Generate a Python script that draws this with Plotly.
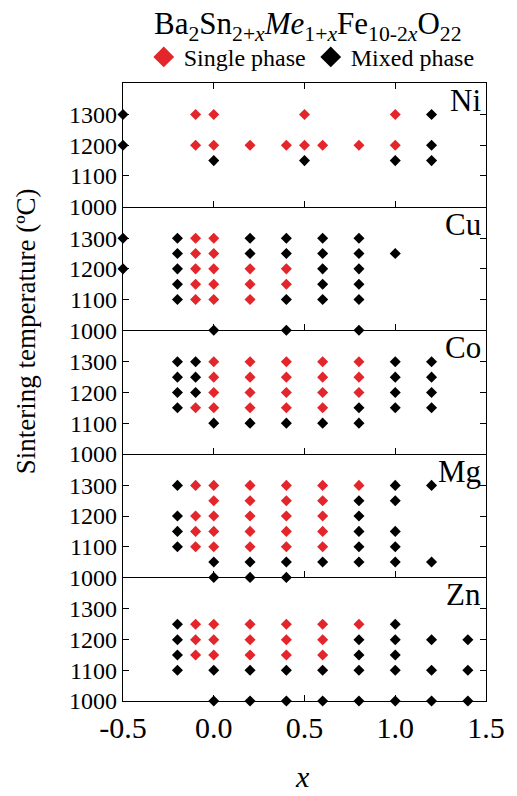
import plotly.graph_objects as go
from plotly.subplots import make_subplots

# ---- data ----
panel_names = ["Ni", "Cu", "Co", "Mg", "Zn"]

ni_single_x = [-0.1, -0.1, 0.0, 0.0, 0.2, 0.4, 0.5, 0.5, 0.6, 0.8, 1.0, 1.0]
ni_single_t = [1300, 1200, 1300, 1200, 1200, 1200, 1300, 1200, 1200, 1200, 1300, 1200]
ni_mixed_x = [-0.5, -0.5, 0.0, 0.5, 1.0, 1.2, 1.2, 1.2]
ni_mixed_t = [1300, 1200, 1150, 1150, 1150, 1300, 1200, 1150]

cu_single_x = [-0.1]*5 + [0.0]*5 + [0.2]*3 + [0.4]*2
cu_single_t = [1300, 1250, 1200, 1150, 1100, 1300, 1250, 1200, 1150, 1100,
               1200, 1150, 1100, 1200, 1150]
cu_mixed_x = [-0.5]*2 + [-0.2]*5 + [0.0] + [0.2]*2 + [0.4]*4 + [0.6]*5 + [0.8]*6 + [1.0]
cu_mixed_t = [1300, 1200, 1300, 1250, 1200, 1150, 1100, 1000, 1300, 1250,
              1300, 1250, 1100, 1000, 1300, 1250, 1200, 1150, 1100,
              1300, 1250, 1200, 1150, 1100, 1000, 1250]

co_single_x = [-0.1] + [0.0]*4 + [0.2]*4 + [0.4]*4 + [0.6]*4 + [0.8]*3
co_single_t = [1150] + [1300, 1250, 1200, 1150]*4 + [1300, 1250, 1200]
co_mixed_x = [-0.2]*4 + [-0.1]*3 + [0.0, 0.2, 0.4, 0.6, 0.8, 0.8] + [1.0]*4 + [1.2]*4
co_mixed_t = [1300, 1250, 1200, 1150, 1300, 1250, 1200,
              1100, 1100, 1100, 1100, 1100, 1150] + [1300, 1250, 1200, 1150]*2

mg_single_x = [-0.1]*4 + [0.0]*5 + [0.2]*5 + [0.4]*5 + [0.6]*5 + [0.8]
mg_single_t = [1300, 1200, 1150, 1100] + [1300, 1250, 1200, 1150, 1100]*4 + [1300]
mg_mixed_x = ([-0.2]*4 + [0.0]*2 + [0.2]*2 + [0.4]*2 + [0.6] + [0.8]*5
              + [1.0]*5 + [1.2]*2)
mg_mixed_t = ([1300, 1200, 1150, 1100] + [1050, 1000]*3 + [1050]
              + [1250, 1200, 1150, 1100, 1050] + [1300, 1250, 1150, 1100, 1050]
              + [1300, 1050])

zn_single_x = [-0.1]*3 + [0.0]*3 + [0.2]*3 + [0.4]*3 + [0.6]*3 + [0.8]
zn_single_t = [1250, 1200, 1150]*5 + [1250]
zn_mixed_x = ([-0.2]*4 + [0.0]*2 + [0.2]*2 + [0.4]*2 + [0.6]*2 + [0.8]*4
              + [1.0]*5 + [1.2]*3 + [1.4]*3)
zn_mixed_t = ([1250, 1200, 1150, 1100] + [1100, 1000]*4 + [1200, 1150, 1100, 1000]
              + [1250, 1200, 1150, 1100, 1000] + [1200, 1100, 1000]*2)

x_ticks = [-0.5, 0.0, 0.5, 1.0, 1.5]
x_tick_text = ["-0.5", "0.0", "0.5", "1.0", "1.5"]
y_ticks = [1000, 1100, 1200, 1300]

single_sets = [(ni_single_x, ni_single_t), (cu_single_x, cu_single_t),
               (co_single_x, co_single_t), (mg_single_x, mg_single_t),
               (zn_single_x, zn_single_t)]
mixed_sets = [(ni_mixed_x, ni_mixed_t), (cu_mixed_x, cu_mixed_t),
              (co_mixed_x, co_mixed_t), (mg_mixed_x, mg_mixed_t),
              (zn_mixed_x, zn_mixed_t)]

RED = "#e3262b"
BLACK = "#000000"
FONT = "Liberation Serif, Times New Roman, serif"

fig = make_subplots(rows=5, cols=1, shared_xaxes=True, vertical_spacing=0)

for i in range(5):
    r = i + 1
    mx, mt = mixed_sets[i]
    sx, st = single_sets[i]
    fig.add_trace(go.Scatter(x=mx, y=mt, mode="markers", showlegend=False,
                             marker=dict(symbol="diamond", size=8.5, color=BLACK),
                             cliponaxis=False), row=r, col=1)
    fig.add_trace(go.Scatter(x=sx, y=st, mode="markers", showlegend=False,
                             marker=dict(symbol="diamond", size=8.5, color=RED),
                             cliponaxis=False), row=r, col=1)

# legend-only traces
fig.add_trace(go.Scatter(x=[None], y=[None], mode="markers", name="Single phase",
                         marker=dict(symbol="diamond", size=16, color=RED)), row=1, col=1)
fig.add_trace(go.Scatter(x=[None], y=[None], mode="markers", name="Mixed phase",
                         marker=dict(symbol="diamond", size=16, color=BLACK)), row=1, col=1)

for i in range(5):
    r = i + 1
    fig.update_yaxes(range=[1000, 1403], tickvals=y_ticks, ticks="inside", ticklen=6,
                     tickwidth=1.2, tickcolor="black",
                     showline=True, linecolor="black", linewidth=1.2, mirror="ticks",
                     showgrid=False, zeroline=False,
                     tickfont=dict(family=FONT, size=24, color="black"),
                     row=r, col=1)
    fig.update_xaxes(range=[-0.5, 1.5], tickvals=x_ticks, ticktext=x_tick_text,
                     ticks="inside", ticklen=6, tickwidth=1.2, tickcolor="black",
                     showline=True, linecolor="black", linewidth=1.2,
                     mirror=("ticks" if r == 1 else False),
                     showgrid=False, zeroline=False,
                     showticklabels=(r == 5),
                     tickfont=dict(family=FONT, size=30, color="black"),
                     row=r, col=1)

annotations = []
for i, name in enumerate(panel_names):
    yref = "y domain" if i == 0 else f"y{i+1} domain"
    annotations.append(dict(text=name, xref="paper", yref=yref, x=1, y=1,
                            xanchor="right", yanchor="top", xshift=-3, yshift=2,
                            showarrow=False,
                            font=dict(family=FONT, size=31, color="black")))

annotations.append(dict(text="Sintering temperature (ºC)", xref="paper", yref="paper",
                        x=-0.265, y=0.598, xanchor="center", yanchor="middle",
                        textangle=-90, showarrow=False,
                        font=dict(family=FONT, size=27, color="black")))
annotations.append(dict(text="<i>x</i>", xref="paper", yref="paper",
                        x=0.495, y=-0.122, xanchor="center", yanchor="middle",
                        showarrow=False,
                        font=dict(family=FONT, size=30, color="black")))
annotations.append(dict(text="Ba<sub>2</sub>Sn<sub>2+<i>x</i></sub><i>Me</i><sub>1+<i>x</i></sub>"
                             "Fe<sub>10-2<i>x</i></sub>O<sub>22</sub>",
                        xref="paper", yref="paper", x=0.51, y=1.092,
                        xanchor="center", yanchor="middle", showarrow=False,
                        font=dict(family=FONT, size=31, color="black")))

fig.update_layout(
    width=517, height=796,
    margin=dict(l=123, r=25, t=83, b=95),
    paper_bgcolor="white", plot_bgcolor="white",
    font=dict(family=FONT, color="black"),
    annotations=annotations,
    showlegend=True,
    legend=dict(orientation="h", x=0.52, y=1.078, xanchor="center", yanchor="top",
                font=dict(family=FONT, size=24, color="black"),
                bgcolor="rgba(0,0,0,0)", itemwidth=30, tracegroupgap=0),
)

fig.write_html("out.html")
